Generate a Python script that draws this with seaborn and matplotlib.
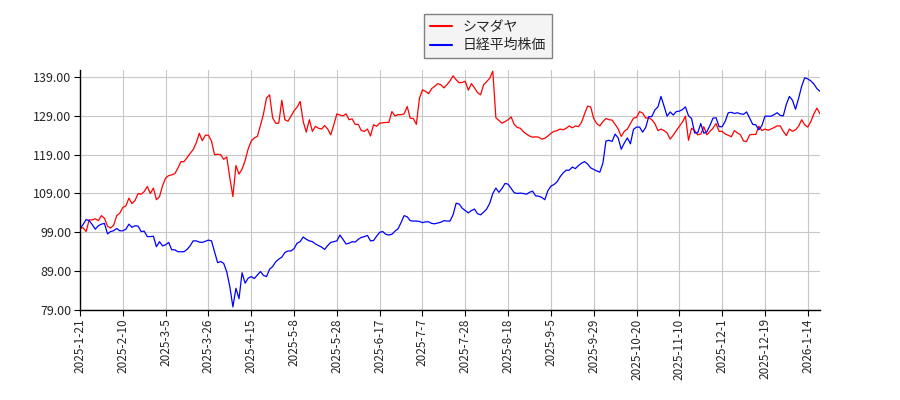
import numpy as np
import pandas as pd
import matplotlib
matplotlib.use('Agg')
import matplotlib.pyplot as plt
import seaborn as sns

# 株価の相対推移（初日 = 100）
shimadaya = [
    100.0, 100.2, 99.2, 102.2, 102.2, 102.5, 102.0, 103.3, 102.6, 100.6,
    100.1, 100.8, 103.3, 103.9, 105.4, 105.8, 107.8, 106.4, 107.2, 109.0,
    108.8, 109.5, 110.8, 109.0, 110.4, 107.4, 108.2, 111.0, 113.0, 113.6,
    113.8, 114.1, 115.5, 117.2, 117.2, 118.2, 119.3, 120.3, 122.0, 124.5,
    122.6, 124.0, 124.0, 122.5, 119.0, 119.1, 119.0, 117.8, 118.4, 113.0,
    108.2, 116.2, 114.0,
    115.3, 117.5, 120.5, 122.5, 123.3, 123.7, 126.5, 129.5, 133.6, 134.4,
    128.5, 127.1, 127.1, 133.0, 128.0, 127.6, 128.9, 130.3, 131.2, 132.7,
    127.5, 124.8, 128.0, 125.0, 126.3, 125.8, 125.6, 126.5, 125.6, 124.1,
    126.7, 129.5, 129.2, 129.0, 129.5, 128.0, 128.2, 126.8, 126.8, 125.2,
    125.0, 125.6, 123.8, 126.7,
    126.3, 127.1, 127.2, 127.3, 127.3, 130.1, 129.0, 129.3, 129.3, 129.5,
    131.4, 128.4, 128.3, 126.8, 133.5, 135.7, 135.3, 134.7, 136.0, 136.6,
    137.3, 137.0, 136.2, 137.0, 138.0, 139.3, 138.3, 137.5, 137.6, 137.9,
    135.6, 137.3, 136.2, 135.0, 134.4, 137.0, 137.8, 138.7, 140.5, 128.5,
    127.8, 127.1, 127.5, 128.0, 128.7, 126.8, 126.0, 125.8,
    124.9, 124.3, 123.8, 123.5, 123.6, 123.5, 123.0, 123.2, 123.8, 124.5,
    125.0, 125.2, 125.6, 125.4, 125.8, 126.4, 125.9, 126.4, 126.2, 127.3,
    129.5, 131.5, 131.3, 128.3, 127.0, 126.4, 127.5, 128.3, 128.0, 127.9,
    126.8, 125.6, 123.7, 125.0, 125.6, 127.0, 128.4, 128.6, 130.1, 129.7,
    128.4, 128.5, 128.0, 127.0, 125.2, 125.6, 125.2,
    124.6, 123.0, 124.0, 125.2, 126.3, 127.4, 128.9, 122.7, 125.8, 125.2,
    124.1, 124.3, 126.2, 124.1, 125.0, 125.8, 127.0, 125.0, 125.0, 124.3,
    124.0, 123.6, 125.2, 124.6, 124.1, 122.5, 122.4, 124.1, 124.2, 124.2,
    126.3, 125.2, 125.6, 125.3, 125.6, 126.0, 126.4, 126.4, 125.0, 123.9,
    125.6, 125.0, 125.4, 126.3, 128.0, 126.7, 126.1, 127.5, 129.5, 131.0,
    129.5,
]

nikkei = [
    100.0, 101.0, 102.3, 102.0, 101.0, 99.8, 100.7, 101.1, 101.3, 98.6,
    99.2, 99.4, 100.0, 99.4, 99.4, 99.8, 101.1, 100.3, 100.7, 100.6,
    99.2, 99.3, 97.9, 97.9, 98.0, 95.3, 96.6, 95.5, 95.8, 96.4,
    94.5, 94.5, 94.0, 94.0, 94.0, 94.6, 95.5, 96.8, 96.8, 96.5,
    96.4, 96.7, 97.0, 96.8, 94.0, 91.2, 91.5, 91.0, 88.8, 85.0,
    79.8, 84.6, 81.9, 88.6, 85.9, 87.2, 87.6, 87.1, 88.0, 88.9,
    87.9, 87.6, 89.5, 90.2, 91.4, 92.1, 92.6, 93.8, 94.2, 94.2,
    94.8, 96.2, 96.6, 97.8, 97.2, 96.8, 96.6, 96.0, 95.6, 95.2,
    94.6, 95.6, 96.4, 96.6, 96.8, 98.3, 97.2, 96.0, 96.2, 96.6,
    96.5, 97.2, 97.7, 97.9, 98.2, 96.8, 96.9,
    98.0, 99.0, 99.2, 98.5, 98.3, 98.5, 99.3, 99.9, 101.5, 103.3,
    103.0, 102.0, 101.9, 101.9, 101.8, 101.5, 101.7, 101.7, 101.3, 101.2,
    101.4, 101.6, 102.0, 101.9, 101.9, 103.5, 106.5, 106.3, 105.2, 104.6,
    104.0, 104.6, 105.0, 103.8, 103.5, 104.2, 105.0, 106.5, 109.0, 110.4,
    109.3, 110.3, 111.6, 111.4, 110.3, 109.2, 109.0, 109.1,
    109.0, 108.8, 109.3, 109.6, 108.4, 108.3, 108.0, 107.4, 109.7, 110.9,
    111.3, 112.0, 113.3, 114.3, 115.0, 115.0, 115.8, 115.4, 116.2, 116.8,
    117.2, 116.6, 115.6, 115.2, 114.8, 114.5, 116.8, 122.5, 122.7, 122.4,
    124.3, 123.3, 120.4, 122.0, 123.3, 121.8, 125.5, 126.1, 126.1, 124.8,
    126.0, 128.8, 128.8, 130.5, 131.3, 134.0, 131.5,
    128.9, 130.0, 129.2, 130.1, 130.2, 130.6, 131.3, 129.0, 128.3, 124.6,
    124.6, 127.0, 124.5, 124.9, 126.5, 128.4, 128.5, 126.2, 126.2, 127.6,
    129.8, 129.9, 129.6, 129.8, 129.5, 129.4, 130.0, 128.4, 126.8, 126.7,
    125.4, 126.5, 128.9, 128.9, 128.9, 129.3, 129.8, 129.1, 129.0, 132.0,
    134.0, 133.0, 130.7, 133.5, 136.6, 138.8, 138.5, 138.0, 137.2, 136.0,
    135.3,
]

tick_labels = [
    '2025-1-21', '2025-2-10', '2025-3-5', '2025-3-26', '2025-4-15',
    '2025-5-8', '2025-5-28', '2025-6-17', '2025-7-7', '2025-7-28',
    '2025-8-18', '2025-9-5', '2025-9-29', '2025-10-20', '2025-11-10',
    '2025-12-1', '2025-12-19', '2026-1-14',
]
y_ticks = [79, 89, 99, 109, 119, 129, 139]

names = ['シマダヤ', '日経平均株価']

df = pd.concat([
    pd.DataFrame({'idx': np.arange(len(shimadaya)), 'value': shimadaya, 'name': names[0]}),
    pd.DataFrame({'idx': np.arange(len(nikkei)), 'value': nikkei, 'name': names[1]}),
])

sns.set_style('whitegrid', {'grid.color': '#c8c8c8', 'axes.edgecolor': 'black'})
plt.rcParams['font.family'] = ['Noto Sans CJK JP', 'DejaVu Sans']

fig = plt.figure(figsize=(9, 4), dpi=100)
ax = fig.add_axes([80 / 900, 1 - 310 / 400, 740 / 900, 240 / 400])

sns.lineplot(data=df, x='idx', y='value', hue='name',
             palette={names[0]: '#ff0000', names[1]: '#0000ff'},
             linewidth=0.9, ax=ax, legend=False)

n = len(shimadaya)
ax.set_xlim(0, n - 1)
ax.set_ylim(79, 140.8)
ax.set_xticks(np.arange(0, n, 14)[:len(tick_labels)])
ax.set_xticklabels(tick_labels, rotation=90, fontsize=8.5)
ax.set_yticks(y_ticks)
ax.set_yticklabels([f'{v:.2f}' for v in y_ticks], fontsize=9)
ax.set_xlabel('')
ax.set_ylabel('')
ax.grid(True, color='#c8c8c8', linewidth=0.8)
for s in ['top', 'right']:
    ax.spines[s].set_visible(False)
for s in ['left', 'bottom']:
    ax.spines[s].set_color('black')
    ax.spines[s].set_linewidth(1.0)
ax.tick_params(axis='both', which='major', length=4, width=0.8, color='black',
               bottom=True, left=True, pad=2)

handles = [plt.Line2D([], [], color='#ff0000', lw=1.5),
           plt.Line2D([], [], color='#0000ff', lw=1.5)]
fig.legend(handles, names, loc='upper left', bbox_to_anchor=(424 / 900, 1 - 14 / 400),
           borderaxespad=0, fontsize=10, frameon=True, fancybox=False,
           edgecolor='#808080', facecolor='#f4f4f4', framealpha=1,
           handlelength=1.6, borderpad=0.4, labelspacing=0.35)

fig.savefig('out.png', dpi=100)
